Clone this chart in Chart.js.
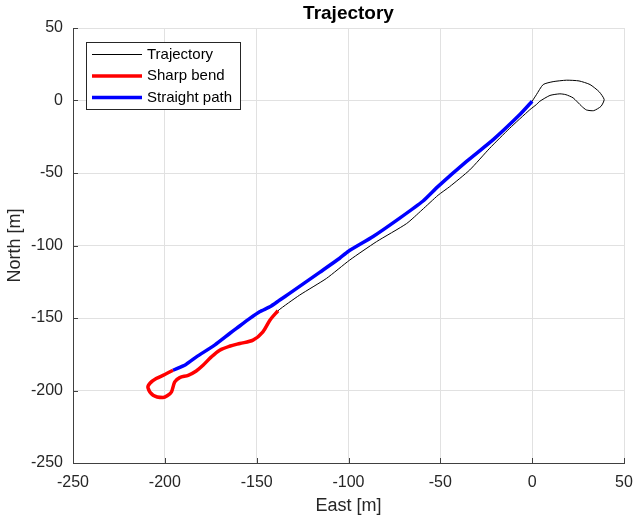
<!DOCTYPE html>
<html lang="en">
<head>
    <meta charset="UTF-8">
    <title>Trajectory</title>
    <script src="https://cdn.jsdelivr.net/npm/chart.js"></script>
    <style>
        body { margin: 0; background: #fff; }
        canvas { display: block; }
    </style>
</head>
<body>
    <canvas id="chartCanvas" width="633" height="519"></canvas>

    <script>
        // whole trajectory (black), starts at origin, loops on the right, comes back on the lower line
        var trajEast = [0, 2.3, 6, 11.4, 18.7, 25.5, 31.5, 36.5, 39.2, 37.5, 33.5, 29.5, 26.9, 22.3, 18.4, 15.1, 9.7, 4.2, 2.3, -1.3,
            -12.2, -23.1, -34, -44.9, -51.2, -60, -68.4, -84.8, -99.3, -112, -126.6, -138.4,
            -142.8, -146.6, -152, -159.2, -164.8, -170.1, -174.8, -179.2, -182.9, -187.3, -191.9, -194.6, -196.4, -198.5, -201,
            -206.4, -209.2, -208.1, -204.7, -200, -195.5,
            -188.5, -182.8, -172.7, -164.7, -161, -153.7, -148.4, -142.8, -137.4, -132.1, -115.7, -104.8, -100.2, -86.6, -72.1,
            -59.4, -51.2, -35.7, -21.2, -6.7, 0];
        var trajNorth = [-0.5, 4, 11, 13, 14, 13.5, 11, 6, 0.7, -4, -7, -6.5, -3.9, 1.8, 4, 4.6, 3.5, -0.5, -2.8, -6.4,
            -19.1, -32.9, -47.9, -59.4, -65.3, -75.5, -84.9, -97.4, -110, -122.7, -134.2, -145,
            -151.5, -159.5, -165.3, -167.6, -169.5, -172.2, -177, -182.6, -186.5, -189.5, -191.1, -194.1, -201, -203.5, -204.9,
            -203.3, -198, -195, -191.8, -189, -186,
            -182, -176.8, -168.5, -160.7, -157.2, -150.3, -145.7, -142.3, -137.6, -133, -118.5, -108.8, -104.1, -93.8, -81.1,
            -69.6, -59.2, -42, -27, -9.7, -0.5];

        // sharp bend (red)
        var bendEast = [-138.4, -142.8, -146.6, -152, -159.2, -164.8, -170.1, -174.8, -179.2, -182.9, -187.3, -191.9, -194.6,
            -196.4, -198.5, -201, -206.4, -209.2, -208.1, -204.7, -200, -195.5];
        var bendNorth = [-145, -151.5, -159.5, -165.3, -167.6, -169.5, -172.2, -177, -182.6, -186.5, -189.5, -191.1, -194.1,
            -201, -203.5, -204.9, -203.3, -198, -195, -191.8, -189, -186];

        // straight path (blue)
        var straightEast = [-195.5, -188.5, -182.8, -172.7, -164.7, -161, -153.7, -148.4, -142.8, -137.4, -132.1, -115.7, -104.8,
            -100.2, -86.6, -72.1, -59.4, -51.2, -35.7, -21.2, -6.7, 0];
        var straightNorth = [-186, -182, -176.8, -168.5, -160.7, -157.2, -150.3, -145.7, -142.3, -137.6, -133, -118.5, -108.8,
            -104.1, -93.8, -81.1, -69.3, -59.2, -42, -27, -9.7, -0.5];

        var axisTicks = [-250, -200, -150, -100, -50, 0, 50];
        var legendLabels = ['Trajectory', 'Sharp bend', 'Straight path'];
        var seriesColors = ['#000000', '#ff0000', '#0000ff'];

        function toPoints(xs, ys) {
            return xs.map(function (x, i) { return { x: x, y: ys[i] }; });
        }

        var FONT = "'Liberation Sans', Arial, sans-serif";

        // MATLAB style inward tick marks
        var innerTicks = {
            id: 'innerTicks',
            afterDatasetsDraw: function (chart) {
                var ctx = chart.ctx, a = chart.chartArea;
                var sx = chart.scales.x, sy = chart.scales.y;
                ctx.save();
                ctx.strokeStyle = '#404040';
                ctx.lineWidth = 1;
                ctx.beginPath();
                axisTicks.forEach(function (v) {
                    var px = Math.round(sx.getPixelForValue(v)) + 0.5;
                    ctx.moveTo(px, a.bottom);
                    ctx.lineTo(px, a.bottom - 5);
                    var py = Math.round(sy.getPixelForValue(v)) + 0.5;
                    ctx.moveTo(a.left, py);
                    ctx.lineTo(a.left + 5, py);
                });
                ctx.stroke();
                ctx.restore();
            }
        };

        // legend box inside the axes, top left
        var boxLegend = {
            id: 'boxLegend',
            afterDraw: function (chart) {
                var ctx = chart.ctx, a = chart.chartArea;
                var left = a.left + 13, top = a.top + 14, w = 154, h = 67;
                ctx.save();
                ctx.fillStyle = '#fff';
                ctx.fillRect(left, top, w, h);
                ctx.strokeStyle = '#262626';
                ctx.lineWidth = 1;
                ctx.strokeRect(left + 0.5, top + 0.5, w, h);
                ctx.font = '15px ' + FONT;
                ctx.textBaseline = 'middle';
                ctx.fillStyle = '#000';
                var widths = [1, 3.5, 3.5];
                for (var i = 0; i < legendLabels.length; i++) {
                    var y = top + 12.5 + i * 21.5;
                    ctx.strokeStyle = seriesColors[i];
                    ctx.lineWidth = widths[i];
                    ctx.beginPath();
                    ctx.moveTo(left + 6, y);
                    ctx.lineTo(left + 56, y);
                    ctx.stroke();
                    ctx.fillText(legendLabels[i], left + 61, y);
                }
                ctx.restore();
            }
        };

        var ctx = document.getElementById('chartCanvas').getContext('2d');
        new Chart(ctx, {
            type: 'scatter',
            data: {
                datasets: [{
                    label: legendLabels[0],
                    data: toPoints(trajEast, trajNorth),
                    showLine: true,
                    borderColor: seriesColors[0],
                    borderWidth: 1,
                    pointRadius: 0,
                    tension: 0.2,
                    order: 3
                }, {
                    label: legendLabels[1],
                    data: toPoints(bendEast, bendNorth),
                    showLine: true,
                    borderColor: seriesColors[1],
                    borderWidth: 3.5,
                    pointRadius: 0,
                    tension: 0.3,
                    order: 2
                }, {
                    label: legendLabels[2],
                    data: toPoints(straightEast, straightNorth),
                    showLine: true,
                    borderColor: seriesColors[2],
                    borderWidth: 3.5,
                    pointRadius: 0,
                    tension: 0.2,
                    order: 1
                }]
            },
            options: {
                responsive: false,
                animation: false,
                devicePixelRatio: 1,
                layout: { padding: { left: 0, right: 9, top: 0, bottom: 0 } },
                plugins: {
                    legend: { display: false },
                    tooltip: { enabled: false },
                    title: {
                        display: true,
                        text: 'Trajectory',
                        fullSize: false,
                        color: '#000',
                        font: { family: FONT, size: 19, weight: 'bold', lineHeight: '22px' },
                        padding: { top: 3, bottom: 3 }
                    }
                },
                scales: {
                    x: {
                        type: 'linear',
                        min: -250, max: 50,
                        afterBuildTicks: function (s) { s.ticks = axisTicks.map(function (v) { return { value: v }; }); },
                        afterFit: function (s) { s.height = 56; s.paddingLeft = 0; s.paddingRight = 0; },
                        grid: { color: '#e1e1e1', drawTicks: false },
                        border: { display: true, color: '#404040', width: 1 },
                        ticks: { color: '#262626', padding: 10, font: { family: FONT, size: 16 } },
                        title: { display: true, text: 'East [m]', color: '#262626', font: { family: FONT, size: 18 }, padding: { top: 0, bottom: 2 } }
                    },
                    y: {
                        type: 'linear',
                        min: -250, max: 50,
                        afterBuildTicks: function (s) { s.ticks = axisTicks.map(function (v) { return { value: v }; }); },
                        afterFit: function (s) { s.width = 73; },
                        grid: { color: '#e1e1e1', drawTicks: false },
                        border: { display: true, color: '#404040', width: 1 },
                        ticks: { color: '#262626', padding: 10, font: { family: FONT, size: 16 } },
                        title: { display: true, text: 'North [m]', color: '#262626', font: { family: FONT, size: 18 }, padding: { top: 4, bottom: 0 } }
                    }
                }
            },
            plugins: [innerTicks, boxLegend]
        });
    </script>
</body>
</html>
